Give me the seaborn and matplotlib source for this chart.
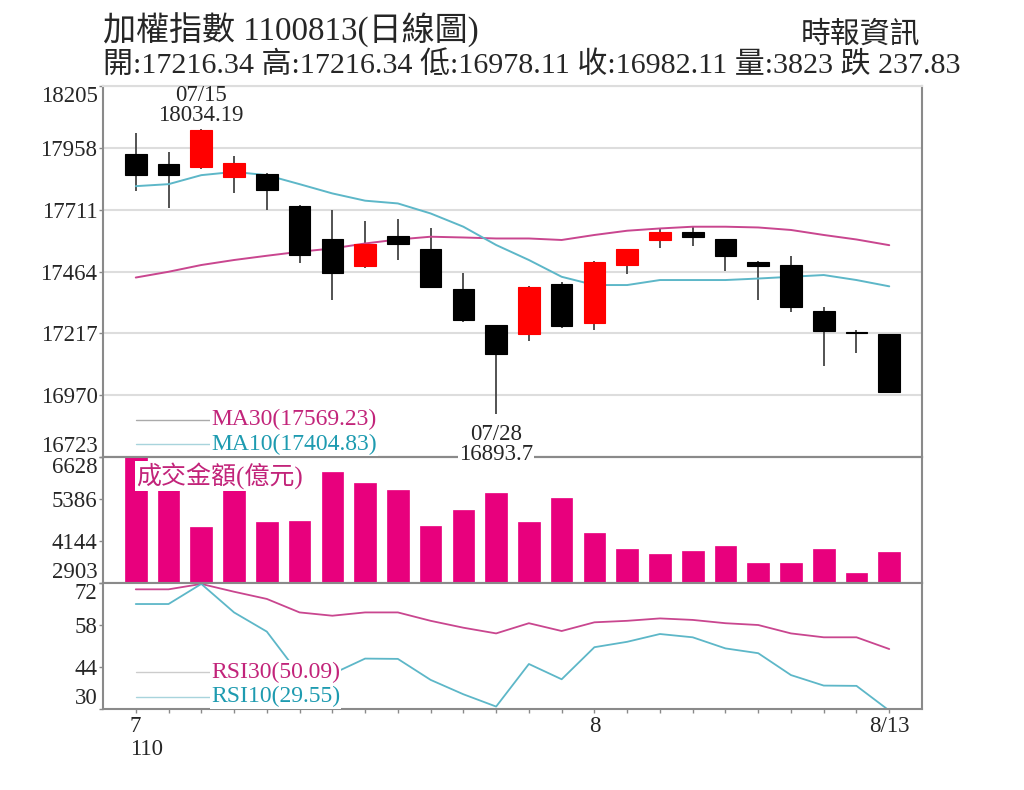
import numpy as np
import pandas as pd
import seaborn as sns
import matplotlib.pyplot as plt
from matplotlib.transforms import ScaledTranslation

# daily candles 110/07/13 - 110/08/13
dates = ["07/13", "07/14", "07/15", "07/16", "07/19", "07/20", "07/21", "07/22",
         "07/23", "07/26", "07/27", "07/28", "07/29", "07/30", "08/02", "08/03",
         "08/04", "08/05", "08/06", "08/09", "08/10", "08/11", "08/12", "08/13"]
open_px = [17932, 17892, 17880, 17840, 17853, 17725, 17592, 17486, 17605, 17553, 17394, 17250,
           17214, 17414, 17257, 17490, 17590, 17623, 17592, 17503, 17492, 17307, 17222, 17216.34]
high_px = [18018, 17942, 18034.19, 17925, 17858, 17728, 17709, 17665, 17672, 17636, 17459, 17252,
           17405, 17423, 17505, 17555, 17632, 17643, 17595, 17508, 17526, 17323, 17230, 17216.34]
low_px = [17787, 17716, 17875, 17779, 17709, 17499, 17350, 17480, 17510, 17400, 17263, 16893.7,
          17187, 17237, 17230, 17456, 17556, 17566, 17467, 17350, 17303, 17086, 17137, 16978.11]
close_px = [17849, 17849, 18030, 17896, 17789, 17530, 17459, 17573, 17573, 17403, 17270, 17134,
            17403, 17246, 17503, 17552, 17623, 17603, 17527, 17486, 17323, 17227, 17219.94, 16982.11]
ma10 = [17805, 17813, 17849, 17862, 17849, 17813, 17776, 17747, 17736, 17696, 17643, 17570,
        17510, 17443, 17410, 17410, 17430, 17430, 17430, 17436, 17443, 17450, 17430, 17404.83]
ma30 = [17440, 17463, 17490, 17510, 17527, 17543, 17556, 17576, 17592, 17603, 17600, 17596,
        17596, 17590, 17610, 17627, 17636, 17643, 17643, 17640, 17630, 17610, 17592, 17569.23]
turnover = [6628, 5745, 4550, 5765, 4715, 4736, 6186, 5863, 5668, 4598, 5080, 5580,
            4720, 5421, 4392, 3903, 3765, 3853, 4000, 3491, 3509, 3912, 3206, 3823]
rsi30 = [70.0, 70.0, 71.8, 69.2, 66.8, 62.3, 61.2, 62.3, 62.3, 59.5, 57.2, 55.3,
         58.7, 56.1, 59.0, 59.5, 60.3, 59.8, 58.7, 58.1, 55.3, 54.0, 54.0, 50.09]
rsi10 = [65.1, 65.1, 71.8, 62.3, 55.9, 41.5, 41.8, 46.9, 46.8, 39.8, 35.0, 30.9,
         45.1, 40.0, 50.7, 52.5, 55.1, 54.0, 50.3, 48.7, 41.4, 37.9, 37.8, 29.55]

price_ticks = [16723, 16970, 17217, 17464, 17711, 17958, 18205]
vol_ticks = [2903, 4144, 5386, 6628]
rsi_ticks = [30, 44, 58, 72]
x_labels = {0: "7\n110", 14: "8", 23: "8/13"}

MAG = "#E8007D"
MA30_C = "#C9468F"
MA10_C = "#5DB7C8"
TXT30 = "#C2247A"
TXT10 = "#1E9BB0"
SPINE = "#8a8a8a"

sns.set_theme(style="white")
plt.rcParams['font.family'] = ['Liberation Serif', 'Noto Sans CJK TC']

df = pd.DataFrame({"i": np.arange(len(dates)), "open": open_px, "high": high_px,
                   "low": low_px, "close": close_px, "ma10": ma10, "ma30": ma30,
                   "vol": turnover, "rsi30": rsi30, "rsi10": rsi10})

fig = plt.figure(figsize=(10.24, 7.9), dpi=100)
L, W = 0.1006, 0.7998
ax1 = fig.add_axes([L, 0.4215, W, 0.4696])
ax2 = fig.add_axes([L, 0.2616, W, 0.1599])
ax3 = fig.add_axes([L, 0.1022, W, 0.1594])
ax1.set_zorder(3)
ax1.patch.set_alpha(0)

white_box = dict(boxstyle="square,pad=0.05", fc="white", ec="none")

# --- price panel ---
up = df["close"] >= df["open"]
colors = np.where(up, "#FF0000", "#000000")
bottoms = np.minimum(df["open"], df["close"])
heights = np.maximum((df["close"] - df["open"]).abs(), 4)
ax1.vlines(df["i"], df["low"], df["high"], color="#444444", lw=1.3, zorder=2)
ax1.bar(df["i"], heights, bottom=bottoms, width=0.66, color=colors,
        edgecolor=colors, lw=0.8, zorder=3)
sns.lineplot(data=df, x="i", y="ma30", ax=ax1, color=MA30_C, lw=1.4, zorder=2)
sns.lineplot(data=df, x="i", y="ma10", ax=ax1, color=MA10_C, lw=1.4, zorder=2)

ax1.set_ylim(price_ticks[0], price_ticks[-1])
ax1.set_yticks(price_ticks, [str(t) for t in price_ticks])
ax1.grid(axis="y", color="#dddddd", lw=1.5)
ax1.grid(axis="x", visible=False)

hi_i = int(np.argmax(df["high"]))
lo_i = int(np.argmin(df["low"]))
ax1.annotate(f"{dates[hi_i]}\n{high_px[hi_i]:.2f}", (hi_i, high_px[hi_i]),
             xytext=(0, 2), textcoords="offset points", ha="center", va="bottom",
             fontsize=16.5, linespacing=0.95, zorder=6)
ax1.annotate(f"{dates[lo_i]}\n{low_px[lo_i]}", (lo_i, low_px[lo_i]),
             xytext=(0, -7), textcoords="offset points", ha="center", va="top",
             fontsize=16.5, linespacing=0.95, annotation_clip=False, zorder=6,
             bbox=white_box)

ax1.plot([0.04, 0.131], [0.10, 0.10], transform=ax1.transAxes, color="#aaaaaa", lw=1)
ax1.plot([0.04, 0.131], [0.035, 0.035], transform=ax1.transAxes, color="#a8d4dc", lw=1)
ax1.text(0.132, 0.10, f"MA30({ma30[-1]:.2f})", transform=ax1.transAxes,
         color=TXT30, fontsize=17, va="center", zorder=6, bbox=white_box)
ax1.text(0.132, 0.035, f"MA10({ma10[-1]:.2f})", transform=ax1.transAxes,
         color=TXT10, fontsize=17, va="center", zorder=6, bbox=white_box)

# --- turnover panel ---
sns.barplot(data=df, x="i", y="vol", ax=ax2, color=MAG, width=0.66,
            saturation=1, edgecolor=MAG, lw=0.5)
ax2.set_ylim(vol_ticks[0], vol_ticks[-1])
ax2.set_yticks(vol_ticks, [str(t) for t in vol_ticks])
ax2.text(0.04, 0.85, "成交金額(億元)", transform=ax2.transAxes, color=TXT30,
         fontsize=18, va="center", zorder=5, bbox=white_box)

# --- RSI panel ---
sns.lineplot(data=df, x="i", y="rsi30", ax=ax3, color=MA30_C, lw=1.3)
sns.lineplot(data=df, x="i", y="rsi10", ax=ax3, color=MA10_C, lw=1.3)
ax3.set_ylim(rsi_ticks[0], rsi_ticks[-1])
ax3.set_yticks(rsi_ticks, [str(t) for t in rsi_ticks])
ax3.plot([0.04, 0.131], [0.296, 0.296], transform=ax3.transAxes, color="#cccccc", lw=1)
ax3.plot([0.04, 0.131], [0.098, 0.098], transform=ax3.transAxes, color="#a8d4dc", lw=1)
ax3.text(0.132, 0.296, f"RSI30({rsi30[-1]:.2f})", transform=ax3.transAxes,
         color=TXT30, fontsize=17, va="center", zorder=6, bbox=white_box)
ax3.text(0.132, 0.098, f"RSI10({rsi10[-1]:.2f})", transform=ax3.transAxes,
         color=TXT10, fontsize=17, va="center", zorder=6, bbox=white_box)

xt = list(range(len(dates)))
ax3.set_xticks(xt, [x_labels.get(k, "") for k in xt])

for ax in (ax1, ax2, ax3):
    ax.set_xlim(-1, len(dates))
    ax.set_xlabel("")
    ax.set_ylabel("")
    for s in ax.spines.values():
        s.set_color(SPINE)
        s.set_linewidth(1.5)
    ax.tick_params(axis="y", labelsize=16.5, length=3, width=1, color=SPINE,
                   pad=1, left=True)
    yt = ax.yaxis.get_major_ticks()
    yt[0].label1.set_va("bottom")
    yt[-1].label1.set_va("top")
ax1.spines["top"].set_color("#dddddd")
ax1.tick_params(axis="x", bottom=False, labelbottom=False)
ax2.tick_params(axis="x", bottom=False, labelbottom=False)
ax3.tick_params(axis="x", labelsize=16.5, length=3, width=1, color=SPINE,
                pad=2, bottom=True)
xt0 = ax3.xaxis.get_major_ticks()[0].label1
xt0.set_ha("left")
xt0.set_multialignment("left")
xt0.set_linespacing(1.1)
xt0.set_transform(xt0.get_transform() + ScaledTranslation(-6 / 100, 0, fig.dpi_scale_trans))

# --- header ---
fig.text(103 / 1024, 1 - 30 / 790, "加權指數 1100813(日線圖)", fontsize=23.8,
         ha="left", va="center")
fig.text(920 / 1024, 1 - 34 / 790, "時報資訊", fontsize=21.5, ha="right", va="center")
fig.text(103 / 1024, 1 - 65 / 790,
         "開:17216.34 高:17216.34 低:16978.11 收:16982.11 量:3823 跌 237.83",
         fontsize=21.6, ha="left", va="center")

fig.savefig("out.png", dpi=100, facecolor="white")
